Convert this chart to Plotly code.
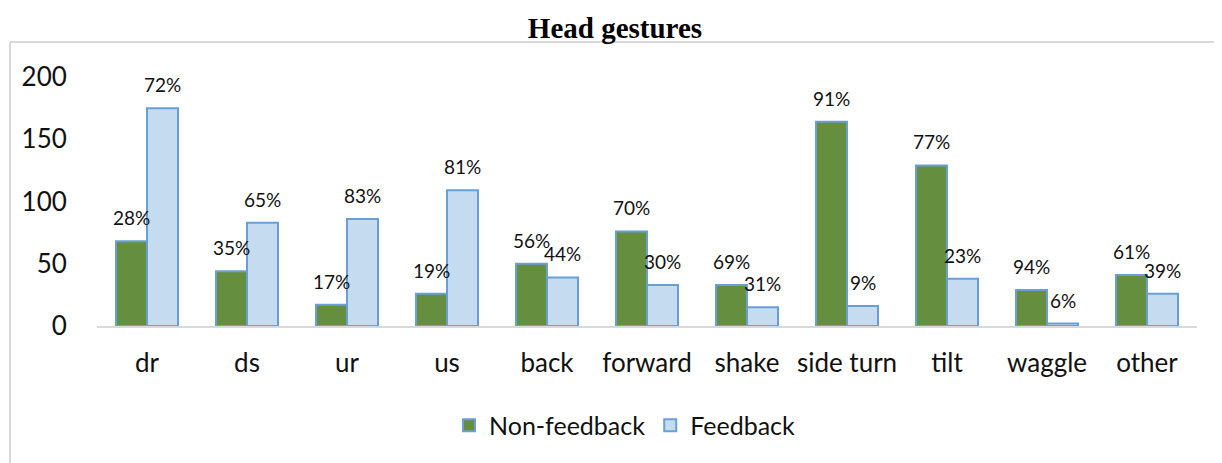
import plotly.graph_objects as go

categories = ["dr", "ds", "ur", "us", "back", "forward", "shake", "side turn", "tilt", "waggle", "other"]
non_feedback = [68, 44, 17, 26, 50, 76, 33, 164, 129, 29, 41]
feedback = [175, 83, 86, 109, 39, 33, 15, 16, 38, 2, 26]
non_feedback_pct = ["28%", "35%", "17%", "19%", "56%", "70%", "69%", "91%", "77%", "94%", "61%"]
feedback_pct = ["72%", "65%", "83%", "81%", "44%", "30%", "31%", "9%", "23%", "6%", "39%"]
y_ticks = [0, 50, 100, 150, 200]

FONT = "Lato, 'Open Sans', sans-serif"
GREEN = "#658f3f"
LIGHT = "#c5dcf0"
EDGE = "#6a9fd6"

W, H = 1214, 455

fig = go.Figure()
fig.add_trace(go.Bar(name="Non-feedback", x=categories, y=non_feedback,
                     marker=dict(color=GREEN, line=dict(color=EDGE, width=2))))
fig.add_trace(go.Bar(name="Feedback", x=categories, y=feedback,
                     marker=dict(color=LIGHT, line=dict(color=EDGE, width=2))))

annotations = []
for c, v, t in zip(categories, non_feedback, non_feedback_pct):
    annotations.append(dict(x=c, y=v, text=t, xref="x", yref="y", showarrow=False,
                            xshift=-15.5, yshift=23.5, yanchor="middle",
                            font=dict(family=FONT, size=19, color="#111111")))
for c, v, t in zip(categories, feedback, feedback_pct):
    annotations.append(dict(x=c, y=v, text=t, xref="x", yref="y", showarrow=False,
                            xshift=15.5, yshift=23.5, yanchor="middle",
                            font=dict(family=FONT, size=19, color="#111111")))

fig.update_layout(
    width=W, height=H,
    margin=dict(l=89, r=25, t=69, b=137),
    paper_bgcolor="white", plot_bgcolor="white",
    barmode="group", bargap=0.38, bargroupgap=0,
    title=dict(text="<b>Head gestures</b>", x=0.5, xanchor="center",
               y=(H - 20) / H, yanchor="middle", yref="container",
               font=dict(family="'Liberation Serif', 'Times New Roman', serif", size=29, color="black")),
    font=dict(family=FONT, color="#111111"),
    xaxis=dict(showline=True, linecolor="#d9d9d9", linewidth=2, showgrid=False,
               ticks="outside", ticklen=13, tickcolor="rgba(0,0,0,0)",
               tickfont=dict(family=FONT, size=26, color="#111111")),
    yaxis=dict(range=[0, 200], tickvals=y_ticks, showgrid=False, zeroline=False, showline=False,
               ticks="outside", ticklen=24, tickcolor="rgba(0,0,0,0)",
               tickfont=dict(family=FONT, size=26, color="#111111")),
    legend=dict(orientation="h", x=0.48, xanchor="center", y=-0.40, yanchor="middle",
                font=dict(family=FONT, size=25, color="#111111"), itemwidth=30),
    annotations=annotations,
    shapes=[
        dict(type="line", xref="paper", yref="paper", x0=-87 / 1100, x1=1.03,
             y0=(326 - 42) / 249, y1=(326 - 42) / 249, line=dict(color="#d9d9d9", width=2)),
        dict(type="line", xref="paper", yref="paper", x0=-87 / 1100, x1=-87 / 1100,
             y0=(326 - 42) / 249, y1=(326 - 470) / 249, line=dict(color="#d9d9d9", width=2)),
    ],
)

fig.write_html("out.html")
